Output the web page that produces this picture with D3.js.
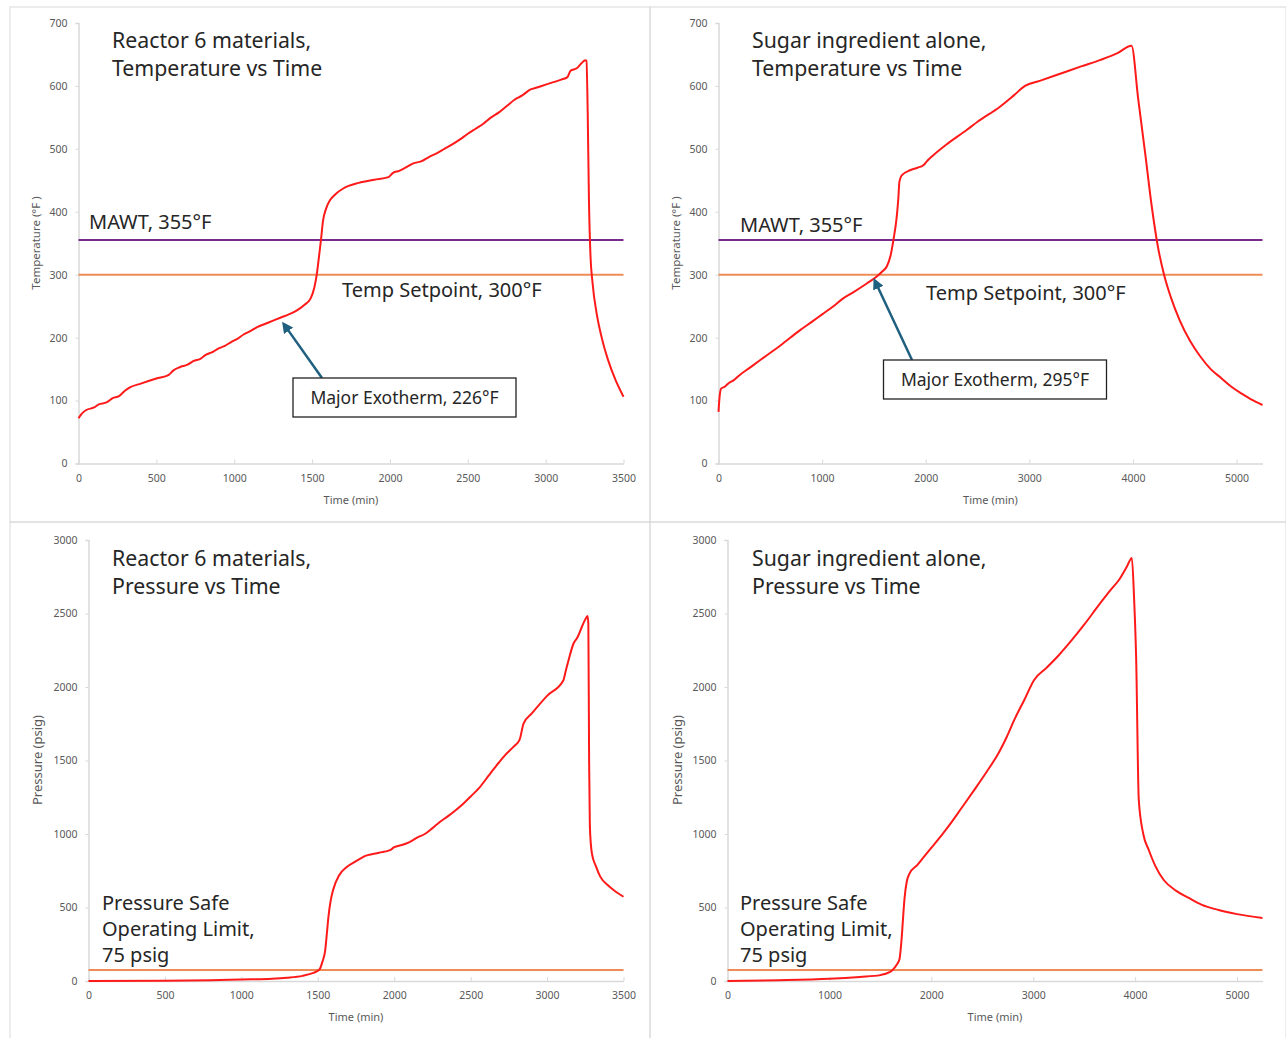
<!DOCTYPE html>
<html>
<head>
<meta charset="utf-8">
<script src="https://cdn.jsdelivr.net/npm/d3@7"></script>
<style>
  html, body { margin: 0; padding: 0; background: #ffffff; }
  svg { display: block; }
  .tick text { fill: #595959; font-family: "Noto Sans", sans-serif; }
</style>
</head>
<body>
<svg id="chart" width="1286" height="1038"></svg>
<script>
// Reactor 6 materials: temperature (°F) vs time (min)
const reactorTempTime = [0,20,50,100,130,180,220,260,300,330,400,500,580,610,650,700,740,780,820,860,900,940,980,1020,1060,1100,1150,1200,1250,1300,1350,1400,1450,1490,1515,1530,1545,1557,1570,1590,1617,1650,1700,1800,1900,1990,2020,2060,2100,2150,2200,2250,2300,2350,2400,2450,2500,2550,2600,2650,2700,2750,2800,2850,2900,2950,3000,3050,3100,3140,3160,3200,3230,3255,3262,3270,3278,3288,3300,3330,3360,3400,3450,3500];
const reactorTemp     = [72,79,85,89,94,97,104,107,116,121,127,135,141,148,153,157,163,166,173,177,183,187,193,198,205,210,217,222,227,232,237,243,252,262,280,300,330,355,385,405,419,428,437,446,451,455,462,465,470,477,480,487,493,500,507,515,524,532,540,550,558,568,578,585,594,598,602,606,610,614,624,628,636,641,640,560,420,330,290,235,200,165,132,106];

// Sugar ingredient alone: temperature (°F) vs time (min)
const sugarTempTime = [0,10,25,60,100,145,200,300,400,467,600,788,900,1000,1109,1200,1300,1431,1527,1580,1624,1660,1688,1720,1735,1746,1768,1849,1920,1977,2020,2073,2200,2395,2500,2716,2850,2958,3100,3360,3500,3681,3850,3986,4050,4120,4180,4240,4300,4370,4450,4550,4650,4750,4850,4950,5050,5150,5250];
const sugarTemp     = [82,105,119,122,128,132,140,152,164,172,188,212,225,237,250,262,272,286,297,305,313,330,355,392,420,448,458,466,470,474,482,490,507,530,543,567,585,600,608,623,631,641,652,664,580,490,410,345,300,262,228,195,170,150,136,122,111,101,93];

// Reactor 6 materials: pressure (psig) vs time (min)
const reactorPresTime = [0,500,800,1000,1200,1300,1400,1471,1500,1515,1530,1548,1560,1570,1585,1602,1640,1690,1750,1798,1900,1973,2000,2050,2100,2150,2200,2250,2300,2350,2400,2453,2500,2562,2620,2671,2720,2780,2820,2846,2900,3000,3107,3120,3140,3173,3200,3228,3250,3265,3270,3275,3280,3293,3320,3348,3400,3435,3500];
const reactorPres     = [0,2,5,10,15,22,35,55,70,85,130,205,330,440,550,625,720,776,815,845,872,890,910,925,945,975,1000,1040,1083,1120,1160,1208,1255,1321,1400,1468,1530,1593,1640,1751,1820,1940,2046,2100,2180,2296,2340,2410,2460,2483,2430,1500,1050,869,780,710,650,619,573];

// Sugar ingredient alone: pressure (psig) vs time (min)
const sugarPresTime = [0,500,1000,1300,1500,1590,1620,1660,1688,1710,1725,1737,1760,1786,1864,1981,2100,2177,2300,2422,2550,2666,2740,2813,2911,3009,3130,3253,3380,3498,3645,3760,3841,3920,3968,3990,4010,4036,4080,4134,4200,4281,4400,4526,4650,4819,5000,5250];
const sugarPres     = [0,5,15,28,40,60,75,110,150,300,450,560,680,730,790,890,990,1060,1180,1300,1430,1558,1660,1775,1910,2048,2130,2218,2320,2422,2558,2660,2728,2820,2878,2600,2200,1231,1000,891,780,687,615,565,520,483,455,429];

// Tick values
const tempTicks = [0,100,200,300,400,500,600,700];
const presTicks = [0,500,1000,1500,2000,2500,3000];
const timeTicks3500 = [0,500,1000,1500,2000,2500,3000,3500];
const timeTicks5250 = [0,1000,2000,3000,4000,5000];

// Reference limits
const mawt = 355;
const tempSetpoint = 300;
const pressureLimit = 75;

const svg = d3.select("#chart");
const FONT = "'Noto Sans', sans-serif";
const AXIS_GREY = "#d9d9d9";
const plain = d3.format("d");

// Panel frames
const frames = [
  [10, 7, 640, 515], [650, 7, 636, 515],
  [10, 522, 640, 520], [650, 522, 636, 520]
];
svg.selectAll("rect.frame").data(frames).enter().append("rect")
  .attr("class", "frame")
  .attr("x", d => d[0]).attr("y", d => d[1])
  .attr("width", d => d[2]).attr("height", d => d[3])
  .attr("fill", "none").attr("stroke", AXIS_GREY).attr("stroke-width", 1);

function panel(cfg) {
  const g = svg.append("g");
  const x = d3.scaleLinear().domain(cfg.xDomain).range(cfg.xRange);
  const y = d3.scaleLinear().domain(cfg.yDomain).range(cfg.yRange);

  // y axis
  const ya = g.append("g").attr("transform", `translate(${cfg.xRange[0]},0)`)
    .call(d3.axisLeft(y).tickValues(cfg.yTicks).tickFormat(plain).tickSize(3).tickPadding(8));
  ya.select(".domain").attr("stroke", AXIS_GREY).attr("stroke-width", 1.5);
  ya.selectAll(".tick line").attr("stroke", AXIS_GREY);
  ya.selectAll(".tick text").attr("font-size", cfg.tickFont).attr("font-family", FONT);

  // x axis
  const xa = g.append("g").attr("transform", `translate(0,${cfg.yRange[0]})`)
    .call(d3.axisBottom(x).tickValues(cfg.xTicks).tickFormat(plain).tickSize(-4).tickSizeOuter(0).tickPadding(11));
  xa.select(".domain").attr("stroke", AXIS_GREY).attr("stroke-width", 1.5);
  xa.selectAll(".tick line").attr("stroke", AXIS_GREY);
  xa.selectAll(".tick text").attr("font-size", cfg.tickFont).attr("font-family", FONT);

  // Axis titles
  g.append("text").attr("x", d3.mean(cfg.xRange)).attr("y", cfg.yRange[0] + 40)
    .attr("text-anchor", "middle").attr("font-family", FONT)
    .attr("font-size", 11).attr("fill", "#595959").text("Time (min)");
  g.append("text")
    .attr("transform", `translate(${cfg.yTitleX},${cfg.yTitleY}) rotate(-90)`)
    .attr("text-anchor", "middle").attr("font-family", FONT)
    .attr("font-size", cfg.yTitleFont).attr("fill", "#595959").text(cfg.yTitle);

  // Reference lines
  cfg.refs.forEach(r => {
    g.append("line")
      .attr("x1", x(cfg.xDomain[0])).attr("x2", x(cfg.xDomain[1]))
      .attr("y1", y(r.value)).attr("y2", y(r.value))
      .attr("stroke", r.color).attr("stroke-width", 2);
  });

  // Measured series
  const pts = cfg.t.map((t, i) => [t, cfg.v[i]]);
  g.append("path").datum(pts)
    .attr("fill", "none").attr("stroke", "#ff1a1a").attr("stroke-width", 2)
    .attr("stroke-linejoin", "round")
    .attr("d", d3.line().x(d => x(d[0])).y(d => y(d[1])).curve(d3.curveMonotoneX));

  // Chart title
  const tt = g.append("text").attr("font-family", FONT).attr("font-size", 21.3).attr("fill", "#262626");
  cfg.title.forEach((line, i) => {
    tt.append("tspan").attr("x", cfg.titleX).attr("y", cfg.titleY + i * 28).text(line);
  });

  return { g, x, y };
}

function label(g, x, y, lines, size, lh) {
  const t = g.append("text").attr("font-family", FONT).attr("font-size", size).attr("fill", "#262626");
  lines.forEach((ln, i) => t.append("tspan").attr("x", x).attr("y", y + i * lh).text(ln));
}

// Arrowhead marker for the exotherm callouts
svg.append("defs").append("marker")
  .attr("id", "arrowHead").attr("viewBox", "0 0 10 10")
  .attr("refX", 7).attr("refY", 5).attr("markerWidth", 4.5).attr("markerHeight", 4.5)
  .attr("orient", "auto-start-reverse")
  .append("path").attr("d", "M0,0 L10,5 L0,10 z").attr("fill", "#1f5f7f");

function callout(p, tArrow, vArrow, box, text) {
  const g = p.g;
  const tipX = p.x(tArrow), tipY = p.y(vArrow);
  g.append("line")
    .attr("x1", box.ax).attr("y1", box.y)
    .attr("x2", tipX).attr("y2", tipY + 5)
    .attr("stroke", "#1f5f7f").attr("stroke-width", 2.5)
    .attr("marker-end", "url(#arrowHead)");
  g.append("rect").attr("x", box.x).attr("y", box.y).attr("width", box.w).attr("height", box.h)
    .attr("fill", "#fff").attr("stroke", "#222").attr("stroke-width", 1.3);
  g.append("text").attr("x", box.x + box.w / 2).attr("y", box.y + box.h / 2 + 6)
    .attr("text-anchor", "middle").attr("font-family", FONT).attr("font-size", 17.5)
    .attr("fill", "#262626").text(text);
}

const PURPLE = "#7a2a8c", ORANGE = "#ef8c55";

// Top-left: Reactor 6 temperature
const tl = panel({
  xDomain: [0, 3500], xRange: [78.5, 623.5], yDomain: [0, 700], yRange: [463.5, 23],
  xTicks: timeTicks3500, yTicks: tempTicks, t: reactorTempTime, v: reactorTemp,
  tickFont: 10.5, yTitle: "Temperature (°F )", yTitleX: 40, yTitleY: 243, yTitleFont: 11.5,
  refs: [{ value: mawt, color: PURPLE }, { value: tempSetpoint, color: ORANGE }],
  title: ["Reactor 6 materials,", "Temperature vs Time"], titleX: 112, titleY: 48
});
label(tl.g, 89, 229, ["MAWT, 355°F"], 20, 0);
label(tl.g, 342, 297, ["Temp Setpoint, 300°F"], 20, 0);
callout(tl, 1320, 229, { x: 293, y: 378, w: 223, h: 39, ax: 322 }, "Major Exotherm, 226°F");

// Top-right: Sugar temperature
const tr = panel({
  xDomain: [0, 5250], xRange: [718.5, 1262.5], yDomain: [0, 700], yRange: [463.5, 23],
  xTicks: timeTicks5250, yTicks: tempTicks, t: sugarTempTime, v: sugarTemp,
  tickFont: 10.5, yTitle: "Temperature (°F )", yTitleX: 680, yTitleY: 243, yTitleFont: 11.5,
  refs: [{ value: mawt, color: PURPLE }, { value: tempSetpoint, color: ORANGE }],
  title: ["Sugar ingredient alone,", "Temperature vs Time"], titleX: 752, titleY: 48
});
label(tr.g, 740, 232, ["MAWT, 355°F"], 20, 0);
label(tr.g, 926, 300, ["Temp Setpoint, 300°F"], 20, 0);
callout(tr, 1510, 298, { x: 883.5, y: 360, w: 223, h: 39, ax: 912 }, "Major Exotherm, 295°F");

// Bottom-left: Reactor 6 pressure
const bl = panel({
  xDomain: [0, 3500], xRange: [88.5, 623.5], yDomain: [0, 3000], yRange: [981, 540],
  xTicks: timeTicks3500, yTicks: presTicks, t: reactorPresTime, v: reactorPres,
  tickFont: 10.5, yTitle: "Pressure (psig)", yTitleX: 42, yTitleY: 760, yTitleFont: 13,
  refs: [{ value: pressureLimit, color: ORANGE }],
  title: ["Reactor 6 materials,", "Pressure vs Time"], titleX: 112, titleY: 566
});
label(bl.g, 102, 910, ["Pressure Safe", "Operating Limit,", "75 psig"], 20, 26);

// Bottom-right: Sugar pressure
const br = panel({
  xDomain: [0, 5250], xRange: [727.5, 1262.5], yDomain: [0, 3000], yRange: [981, 540],
  xTicks: timeTicks5250, yTicks: presTicks, t: sugarPresTime, v: sugarPres,
  tickFont: 10.5, yTitle: "Pressure (psig)", yTitleX: 682, yTitleY: 760, yTitleFont: 13,
  refs: [{ value: pressureLimit, color: ORANGE }],
  title: ["Sugar ingredient alone,", "Pressure vs Time"], titleX: 752, titleY: 566
});
label(br.g, 740, 910, ["Pressure Safe", "Operating Limit,", "75 psig"], 20, 26);
</script>
</body>
</html>
